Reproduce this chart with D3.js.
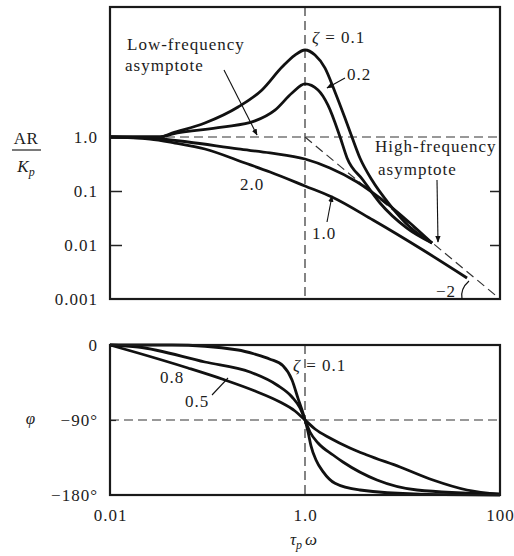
<!DOCTYPE html>
<html><head><meta charset="utf-8">
<script src="https://cdn.jsdelivr.net/npm/d3@7"></script>
<style>
body{margin:0;background:#fff}
text{font-family:"Liberation Serif","Times New Roman",serif;fill:#1c1c1c}
</style></head><body><svg id="c" width="514" height="556"></svg>
<script>
// ---- data ----
const omegaTicks = [0.01, 1, 100];
const omegaTickLabels = ["0.01", "1.0", "100"];
const arTicks = [1, 0.1, 0.01, 0.001];
const arTickLabels = ["1.0", "0.1", "0.01", "0.001"];
const phaseTicks = [0, -90, -180];
const phaseTickLabels = ["0", "−90°", "−180°"];

// amplitude ratio AR/Kp vs tau*omega
const arZeta01 = [[0.01,1],[0.0326,1],[0.0432,1.07],[0.094,1.28],[0.206,1.70],[0.362,2.30],[0.581,3.45],[0.789,4.27],[1,4.67],[1.266,4.27],[1.60,3.40],[2.03,2.22],[2.57,1.40],[3.03,1],[3.66,0.409],[4.86,0.160],[7.45,0.055],[11.9,0.0215],[20.1,0.0109]];
const arZeta02 = [[0.01,1],[0.0326,1],[0.0432,1.054],[0.141,1.19],[0.307,1.33],[0.492,1.61],[0.736,2.18],[1,2.56],[1.36,2.30],[1.72,1.76],[2.29,1],[2.70,0.409],[3.93,0.160],[5.88,0.060],[11.1,0.0206],[20.1,0.0109]];
const arZeta10 = [[0.01,1],[0.0257,0.958],[0.063,0.808],[0.206,0.600],[0.438,0.506],[1,0.391],[1.80,0.267],[3.42,0.147],[7.45,0.0528],[20.1,0.0109]];
const arZeta20 = [[0.01,1],[0.0257,0.918],[0.0464,0.774],[0.094,0.600],[0.243,0.330],[0.438,0.225],[1,0.124],[1.89,0.0775],[4.98,0.0290],[16.2,0.00807],[45.9,0.00245]];
const lowAsymptote = [[0.01,1],[100,1]];
const highAsymptote = [[1,1],[100,0.001]];

// phase angle (degrees) vs tau*omega
const phZeta01 = [[0.01,0],[0.0432,0],[0.206,-6],[0.307,-11],[0.438,-17],[0.595,-25],[0.736,-42],[0.848,-64],[0.932,-78],[1,-90],[1.073,-104],[1.152,-121],[1.297,-138],[1.53,-152],[2.03,-166],[3.66,-174],[15.1,-179],[100,-180]];
const phZeta05 = [[0.01,0],[0.0194,-2.4],[0.094,-20.4],[0.273,-32.4],[0.516,-48],[0.736,-62.4],[0.889,-75.6],[1,-90],[1.125,-104.4],[1.36,-117.6],[1.94,-132],[2.45,-140.4],[5.47,-162],[14.1,-174],[100,-179]];
const phZeta08 = [[0.01,0],[0.0194,-9.6],[0.063,-27.6],[0.151,-42],[0.307,-55.2],[0.554,-68.4],[0.789,-79.2],[1,-90],[1.266,-100.8],[1.80,-111.6],[2.89,-123.6],[4.32,-132],[9.43,-146.4],[20.5,-162],[45.9,-174],[100,-179]];

// ---- layout ----
const svg = d3.select("#c");
const L = 110, R = 500, T1 = 7, B1 = 299, T2 = 345, B2 = 495;
const FS = 17;
const x = d3.scaleLog().domain([0.01, 100]).range([L, R]);
const yA = d3.scaleLog().domain([0.001, 1, 10]).range([B1, 137, T1]);
const yP = d3.scaleLinear().domain([0, -180]).range([T2, B2]);

const lineA = d3.line().x(d => x(d[0])).y(d => yA(d[1])).curve(d3.curveMonotoneX);
const lineAStraight = d3.line().x(d => x(d[0])).y(d => yA(d[1]));
const lineP = d3.line().x(d => x(d[0])).y(d => yP(d[1])).curve(d3.curveMonotoneX);

svg.append("defs").append("marker").attr("id","ah").attr("viewBox","0 0 10 10")
  .attr("refX",9).attr("refY",5).attr("markerWidth",6).attr("markerHeight",6).attr("orient","auto")
  .append("path").attr("d","M0,1 L10,5 L0,9 z").attr("fill","#111");

const dash = (sel) => sel.attr("stroke","#333").attr("stroke-width",1.2).attr("stroke-dasharray","9,5").attr("fill","none");

// --- top panel ---
dash(svg.append("path").attr("d", lineAStraight(lowAsymptote)));
dash(svg.append("path").attr("d", lineAStraight(highAsymptote)));
dash(svg.append("line").attr("x1",x(1)).attr("x2",x(1)).attr("y1",T1).attr("y2",B1));

[arZeta20, arZeta10, arZeta02, arZeta01].forEach(s => {
  svg.append("path").attr("d", lineA(s)).attr("fill","none").attr("stroke","#111").attr("stroke-width",2.8);
});

const axA = svg.append("g").attr("transform",`translate(${L},0)`)
  .call(d3.axisLeft(yA).tickValues(arTicks).tickFormat((d,i)=>arTickLabels[i]).tickSizeInner(-12).tickSizeOuter(0).tickPadding(12));
axA.select(".domain").remove();
axA.selectAll(".tick line").attr("stroke","#222").attr("stroke-width",1.5).filter(d => d===1 || d===0.001).remove();
axA.selectAll("text").attr("font-size",FS).attr("font-family","Liberation Serif").attr("letter-spacing","1px");

const axAR = svg.append("g").attr("transform",`translate(${R},0)`)
  .call(d3.axisRight(yA).tickValues([0.1,0.01]).tickFormat("").tickSizeInner(-10).tickSizeOuter(0));
axAR.select(".domain").remove();
axAR.selectAll(".tick line").attr("stroke","#222").attr("stroke-width",1.5);

svg.append("rect").attr("x",L).attr("y",T1).attr("width",R-L).attr("height",B1-T1)
  .attr("fill","none").attr("stroke","#1a1a1a").attr("stroke-width",2.2);

// --- bottom panel ---
dash(svg.append("line").attr("x1",L).attr("x2",R).attr("y1",yP(-90)).attr("y2",yP(-90)));
dash(svg.append("line").attr("x1",x(1)).attr("x2",x(1)).attr("y1",T2).attr("y2",B2));

[phZeta08, phZeta05, phZeta01].forEach(s => {
  svg.append("path").attr("d", lineP(s)).attr("fill","none").attr("stroke","#111").attr("stroke-width",2.8);
});

const axP = svg.append("g").attr("transform",`translate(${L},0)`)
  .call(d3.axisLeft(yP).tickValues(phaseTicks).tickFormat((d,i)=>phaseTickLabels[i]).tickSizeInner(-6).tickSizeOuter(0).tickPadding(12));
axP.select(".domain").remove();
axP.selectAll(".tick line").attr("stroke","#222").attr("stroke-width",1.2).filter(d => d!==-90).remove();
axP.selectAll("text").attr("font-size",FS).attr("font-family","Liberation Serif").attr("letter-spacing","1px");

const axX = svg.append("g").attr("transform",`translate(0,${B2})`)
  .call(d3.axisBottom(x).tickValues(omegaTicks).tickFormat((d,i)=>omegaTickLabels[i]).tickSizeInner(0).tickSizeOuter(0).tickPadding(14));
axX.select(".domain").remove();
axX.selectAll(".tick line").remove();
axX.selectAll("text").attr("font-size",FS).attr("font-family","Liberation Serif").attr("letter-spacing","1px");

svg.append("rect").attr("x",L).attr("y",T2).attr("width",R-L).attr("height",B2-T2)
  .attr("fill","none").attr("stroke","#1a1a1a").attr("stroke-width",2.2);

// --- annotations ---
const txt = (s, tx, ty, opts={}) => {
  const t = svg.append("text").attr("x",tx).attr("y",ty).attr("font-size",opts.size||FS)
    .attr("letter-spacing",opts.ls||"1px").text(s);
  if (opts.anchor) t.attr("text-anchor",opts.anchor);
  if (opts.italic) t.attr("font-style","italic");
  return t;
};
const ptr = (x1,y1,x2,y2,arrow) => {
  const l = svg.append("line").attr("x1",x1).attr("y1",y1).attr("x2",x2).attr("y2",y2)
    .attr("stroke","#111").attr("stroke-width",1.1);
  if (arrow) l.attr("marker-end","url(#ah)");
};

txt("Low-frequency", 127, 50);
txt("asymptote", 125, 71);
ptr(224, 70, 257, 135, true);

const z1 = txt("", 312, 43);
z1.append("tspan").attr("font-style","italic").text("ζ");
z1.append("tspan").text(" = 0.1");

txt("0.2", 347, 80);
ptr(345, 78, 327, 88, true);

txt("2.0", 240, 190);
txt("1.0", 312, 239);
ptr(327, 222, 332, 196, true);

txt("High-frequency", 375, 152);
txt("asymptote", 378, 175);
ptr(437, 180, 438, 242, true);

txt("−2", 436, 297);
svg.append("path").attr("d","M469,281 Q460,289 462,299").attr("fill","none").attr("stroke","#111").attr("stroke-width",1.2);

txt("0.8", 160, 383);
txt("0.5", 185, 407);
ptr(212, 395, 228, 378, false);

const z2 = txt("", 293, 371);
z2.append("tspan").attr("font-style","italic").text("ζ");
z2.append("tspan").text(" = 0.1");

// axis titles
txt("AR", 26, 144, {anchor:"middle", ls:"0.5px"});
svg.append("line").attr("x1",12).attr("x2",41).attr("y1",150).attr("y2",150).attr("stroke","#222").attr("stroke-width",1.2);
const kp = txt("", 26, 172, {anchor:"middle", ls:"0px"});
kp.append("tspan").attr("font-style","italic").text("K");
kp.append("tspan").attr("font-style","italic").attr("font-size",12).attr("dy",4).text("p");

txt("φ", 31, 424, {anchor:"middle", italic:true});

const tw = txt("", 290, 545, {ls:"0px"});
tw.append("tspan").attr("font-style","italic").text("τ");
tw.append("tspan").attr("font-style","italic").attr("font-size",12).attr("dy",4).text("p");
tw.append("tspan").attr("font-style","italic").attr("dy",-4).attr("dx",3).text("ω");
</script></body></html>
